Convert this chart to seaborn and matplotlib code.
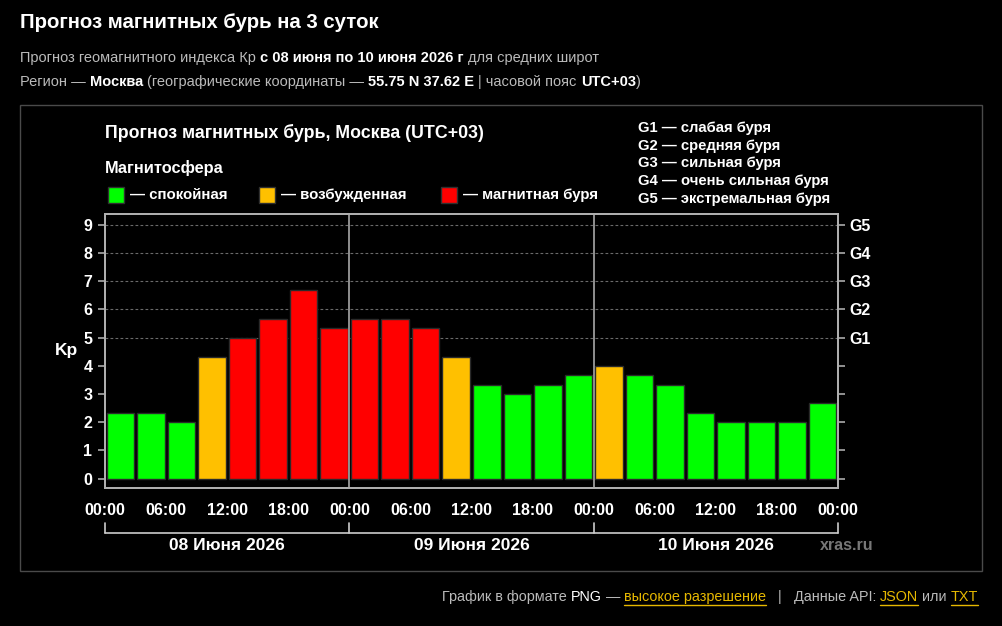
import numpy as np
import pandas as pd
import matplotlib
matplotlib.use('Agg')
import matplotlib.pyplot as plt
from matplotlib.lines import Line2D
from matplotlib.patches import Rectangle
from matplotlib.transforms import IdentityTransform
import seaborn as sns

# Kp forecast, one value per 3-hour slot, 08-10 June 2026
kp = [2.33, 2.33, 2.0, 4.33, 5.0, 5.67, 6.67, 5.33,
      5.67, 5.67, 5.33, 4.33, 3.33, 3.0, 3.33, 3.67,
      4.0, 3.67, 3.33, 2.33, 2.0, 2.0, 2.0, 2.67]
time_labels = ['00:00', '06:00', '12:00', '18:00'] * 3 + ['00:00']
days = ['08 Июня 2026', '09 Июня 2026', '10 Июня 2026']
storm_levels = ['G1', 'G2', 'G3', 'G4', 'G5']
storm_names = ['слабая буря', 'средняя буря', 'сильная буря',
               'очень сильная буря', 'экстремальная буря']
state_names = ['спокойная', 'возбужденная', 'магнитная буря']
state_colors = ['#00ff00', '#ffc000', '#ff0000']


def state_of(v):
    if v < 4:
        return state_names[0]
    if v < 5:
        return state_names[1]
    return state_names[2]


df = pd.DataFrame({'slot': range(len(kp)), 'kp': kp})
df['state'] = df['kp'].apply(state_of)

W, H = 1002, 626
sns.set_style('dark')
plt.rcParams['font.family'] = ['Liberation Sans', 'DejaVu Sans']

fig = plt.figure(figsize=(W / 100, H / 100), dpi=100, facecolor='black')
renderer = fig.canvas.get_renderer()
PX = IdentityTransform()

# outer frame
fig.patches.append(Rectangle((20, H - 571), 962, 466, transform=PX,
                             fill=False, edgecolor='#4a4a4a', lw=1))

ax = fig.add_axes([105 / W, 1 - 488 / H, (838 - 105) / W, (488 - 214) / H])
ax.set_facecolor('black')
sns.barplot(data=df, x='slot', y='kp', hue='state',
            palette=dict(zip(state_names, state_colors)), dodge=False,
            saturation=1, width=0.9, edgecolor='#2a2a2a', linewidth=1,
            legend=False, ax=ax, zorder=3)

ax.set_xlim(-0.5, len(kp) - 0.5)
ax.set_ylim(-0.33, 9.38)
ax.grid(False)
for lvl in range(5, 5 + len(storm_levels)):
    ax.axhline(lvl, color='#6a6a6a', lw=0.8, ls=(0, (2.5, 2)), zorder=1)
for d in range(1, len(days)):
    ax.axvline(d * 8 - 0.5, color='#9a9a9a', lw=1.3, zorder=4)

ax.set_xticks(np.arange(-0.5, len(kp), 2))
ax.set_xticklabels(time_labels)
ax.set_xticks(np.arange(0.5, len(kp), 2), minor=True)
ax.tick_params(axis='x', which='both', length=7, width=1.2, color='#aaaaaa',
               pad=4, labelcolor='white', labelsize=11.5)
for lab in ax.get_xticklabels():
    lab.set_fontweight('bold')
ax.set_yticks(range(10))
ax.tick_params(axis='y', length=5, width=1.2, color='#aaaaaa', pad=4,
               labelcolor='white', labelsize=11.5)
for lab in ax.get_yticklabels():
    lab.set_fontweight('bold')
ax.set_xlabel('')
ax.set_ylabel('Kp', rotation=0, color='white', fontweight='bold', fontsize=12.5,
              ha='center', va='center')
ax.yaxis.set_label_coords(-0.052, 0.5)

ax2 = ax.twinx()
ax2.set_ylim(ax.get_ylim())
ax2.set_yticks(range(10))
ax2.set_yticklabels([''] * 5 + storm_levels)
ax2.tick_params(axis='y', length=5, width=1.2, color='#aaaaaa', pad=3,
                labelcolor='white', labelsize=11.5)
for lab in ax2.get_yticklabels():
    lab.set_fontweight('bold')
ax2.grid(False)
for a in (ax, ax2):
    for sp in a.spines.values():
        sp.set_color('#b0b0b0')
        sp.set_linewidth(1.3)

# day bracket under the time labels
x0, x1 = 105, 838
fig.lines.append(Line2D([x0, x1], [H - 533, H - 533], transform=PX,
                        color='#cccccc', lw=1.2))
step = (x1 - x0) / len(days)
for i in range(len(days) + 1):
    xb = x0 + i * step
    fig.lines.append(Line2D([xb, xb], [H - 533, H - 523], transform=PX,
                            color='#cccccc', lw=1.2))
for i, d in enumerate(days):
    fig.text(x0 + (i + 0.5) * step, H - 545, d, transform=PX, ha='center',
             va='center', color='white', fontsize=12.5, fontweight='bold')
fig.text(847, H - 545, 'xras.ru', transform=PX, ha='center', va='center',
         color='#777777', fontsize=11.5, fontweight='bold')


def text_width(s, size, weight):
    t = fig.text(0, 0, s, fontsize=size, fontweight=weight, transform=PX)
    w = t.get_window_extent(renderer).width
    t.remove()
    return w


def runs(x, y, parts, size, align='left'):
    sp = {}
    items = []
    total = 0
    for s, color, weight, link in parts:
        if weight not in sp:
            sp[weight] = text_width('a a', size, weight) - text_width('aa', size, weight)
        lead = len(s) - len(s.lstrip(' '))
        trail = len(s) - len(s.rstrip(' '))
        core = s.strip(' ')
        w = text_width(core, size, weight) if core else 0
        items.append((core, color, weight, link, lead * sp[weight], w, trail * sp[weight]))
        total += (lead + trail) * sp[weight] + w
    cx = x - total if align == 'right' else x
    for core, color, weight, link, lg, w, tg in items:
        cx += lg
        if core:
            fig.text(cx, H - y, core, transform=PX, color=color, fontsize=size,
                     fontweight=weight, va='center', ha='left')
            if link:
                fig.lines.append(Line2D([cx, cx + w], [H - y - 8, H - y - 8],
                                        transform=PX, color=color, lw=1))
        cx += w + tg


fig.text(20, H - 22, 'Прогноз магнитных бурь на 3 суток', transform=PX,
         color='white', fontsize=14.7, fontweight='bold', va='center')
grey = '#bbbbbb'
runs(20, 58, [('Прогноз геомагнитного индекса Кр ', grey, 'normal', False),
              ('с 08 июня по 10 июня 2026 г', 'white', 'bold', False),
              (' для средних широт', grey, 'normal', False)], 10.5)
runs(20, 82, [('Регион — ', grey, 'normal', False),
              ('Москва', 'white', 'bold', False),
              (' (географические координаты — ', grey, 'normal', False),
              ('55.75 N 37.62 E', 'white', 'bold', False),
              (' | часовой пояс ', grey, 'normal', False),
              ('UTC+03', 'white', 'bold', False),
              (')', grey, 'normal', False)], 10.5)

# chart header and legend
fig.text(105, H - 133, 'Прогноз магнитных бурь, Москва (UTC+03)', transform=PX,
         color='white', fontsize=12.8, fontweight='bold', va='center')
fig.text(105, H - 168, 'Магнитосфера', transform=PX, color='white',
         fontsize=11.8, fontweight='bold', va='center')
for xs, name, col in zip([105, 256, 438], state_names, state_colors):
    fig.patches.append(Rectangle((xs + 3, H - 203), 16, 16, transform=PX,
                                 facecolor=col, edgecolor='#303030', lw=1))
    fig.text(xs + 25, H - 195, '— ' + name, transform=PX, color='white',
             fontsize=10.8, fontweight='bold', va='center')
for i, (g, n) in enumerate(zip(storm_levels, storm_names)):
    fig.text(638, H - (128 + i * 17.7), g + ' — ' + n, transform=PX,
             color='white', fontsize=10.7, fontweight='bold', va='center')

# footer
gold = '#e6b800'
runs(978, 597, [('График в формате ', grey, 'normal', False),
                ('PNG', 'white', 'normal', False),
                (' — ', grey, 'normal', False),
                ('высокое разрешение', gold, 'normal', True),
                ('   |   ', grey, 'normal', False),
                ('Данные API: ', grey, 'normal', False),
                ('JSON', gold, 'normal', True),
                (' или ', grey, 'normal', False),
                ('TXT', gold, 'normal', True)], 10.4, align='right')

fig.savefig('out.png', dpi=100, facecolor='black')
